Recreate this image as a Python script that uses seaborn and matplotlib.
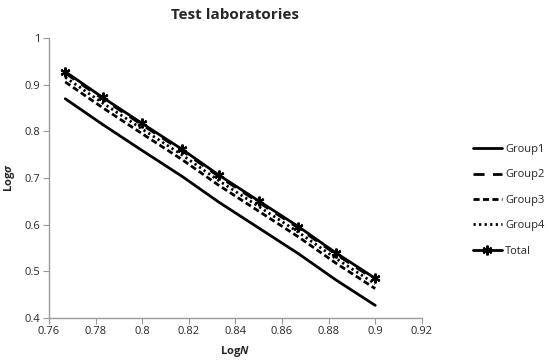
import seaborn as sns
import matplotlib.pyplot as plt
from matplotlib.ticker import FuncFormatter

# values
log_n = [0.767, 0.783, 0.800, 0.817, 0.833, 0.850, 0.867, 0.883, 0.900]
group1 = [0.870, 0.815, 0.759, 0.704, 0.648, 0.593, 0.538, 0.482, 0.427]
group2 = [0.925, 0.870, 0.814, 0.759, 0.703, 0.648, 0.593, 0.537, 0.482]
group3 = [0.906, 0.851, 0.795, 0.740, 0.684, 0.629, 0.574, 0.518, 0.463]
group4 = [0.916, 0.861, 0.805, 0.750, 0.694, 0.639, 0.584, 0.528, 0.473]
total = [0.928, 0.873, 0.817, 0.762, 0.706, 0.651, 0.596, 0.540, 0.485]

x_ticks = [0.76, 0.78, 0.80, 0.82, 0.84, 0.86, 0.88, 0.90, 0.92]
y_ticks = [0.4, 0.5, 0.6, 0.7, 0.8, 0.9, 1.0]

sns.set_style("white")
plt.rcParams['font.family'] = ['Open Sans', 'DejaVu Sans']
plt.rcParams['mathtext.fontset'] = 'custom'
plt.rcParams['mathtext.it'] = 'Open Sans:italic:bold'
plt.rcParams['mathtext.rm'] = 'Open Sans:bold'

fig = plt.figure(figsize=(5.5, 3.63), dpi=100)
ax = fig.add_axes([0.089, 0.124, 0.678, 0.771])

series = [
    ("Group1", group1, dict(linestyle='-')),
    ("Group2", group2, dict(linestyle=(0, (4, 3)))),
    ("Group3", group3, dict(linestyle=(0, (2.2, 1.2)))),
    ("Group4", group4, dict(linestyle=(0, (0.8, 1.2)))),
    ("Total", total, dict(linestyle='-', marker=(6, 2, 0), markersize=7,
                          markeredgewidth=1.6, markeredgecolor='black')),
]
for name, vals, style in series:
    sns.lineplot(x=log_n, y=vals, ax=ax, color='black', label=name,
                 linewidth=2, **style)

ax.set_xlim(0.76, 0.92)
ax.set_ylim(0.4, 1.0)
ax.set_xticks(x_ticks)
ax.set_yticks(y_ticks)
fmt = FuncFormatter(lambda v, p: f"{v:g}")
ax.xaxis.set_major_formatter(fmt)
ax.yaxis.set_major_formatter(fmt)
ax.tick_params(axis='both', labelsize=8, direction='out', length=4,
               color='#999999', bottom=True, left=True, pad=2)

for side in ['top', 'right']:
    ax.spines[side].set_visible(False)
for side in ['left', 'bottom']:
    ax.spines[side].set_color('#999999')
    ax.spines[side].set_linewidth(1)

ax.set_title("Test laboratories", fontsize=11, fontweight='bold', pad=14)
ax.set_xlabel(r"Log$N$", fontsize=8, fontweight='bold', labelpad=5)
ax.set_ylabel(r"Log$\sigma$", fontsize=8, fontweight='bold', labelpad=6)

ax.legend(loc='center left', bbox_to_anchor=(1.11, 0.42), frameon=False,
          fontsize=8, handlelength=2.6, handletextpad=0.3, labelspacing=1.3)

fig.savefig("out.png", dpi=100)
plt.close()
